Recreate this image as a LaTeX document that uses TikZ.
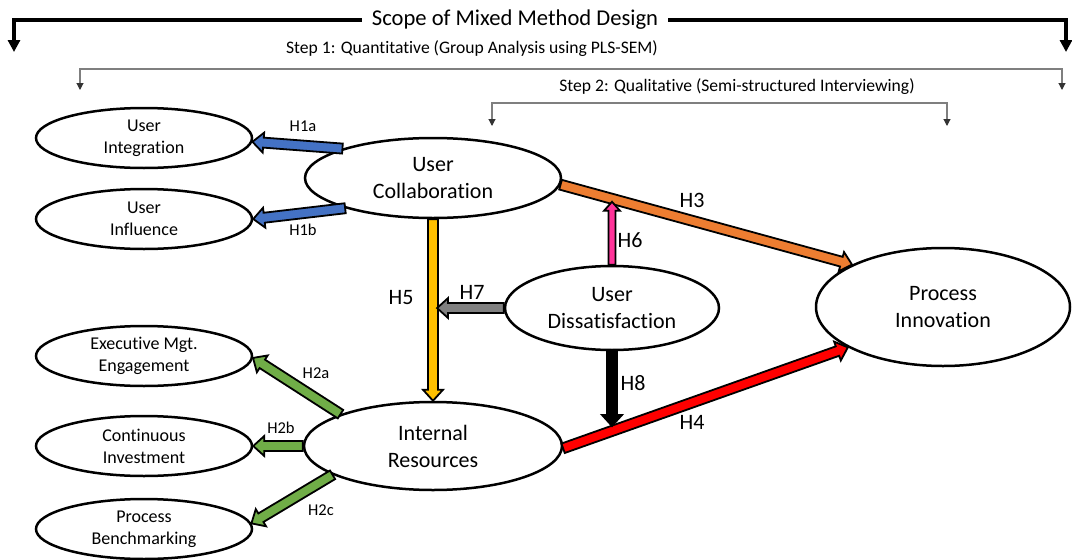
\documentclass[tikz,border=0pt]{standalone}
\usepackage{fontspec}
\setmainfont{Carlito}[Ligatures=NoCommon]
\usetikzlibrary{calc,arrows.meta,shapes.geometric}

% block arrow: #1 fill, #2 start, #3 tip, #4 shaft half width, #5 head half width, #6 head length
\newcommand\blockarrow[6]{%
  \coordinate (ba-s) at (#2);
  \coordinate (ba-t) at (#3);
  \coordinate (ba-b) at ($(ba-t)!#6!(ba-s)$);
  \filldraw[blockline, fill=#1]
    ($(ba-s)!#4!90:(ba-t)$) -- ($(ba-b)!#4!90:(ba-t)$) -- ($(ba-b)!#5!90:(ba-t)$)
    -- (ba-t)
    -- ($(ba-b)!#5!-90:(ba-t)$) -- ($(ba-b)!#4!-90:(ba-t)$) -- ($(ba-s)!#4!-90:(ba-t)$) -- cycle;
}

\definecolor{cblue}{HTML}{4472C4}
\definecolor{corange}{HTML}{ED7D31}
\definecolor{cred}{HTML}{FF0000}
\definecolor{cyellow}{HTML}{FFC000}
\definecolor{cpink}{HTML}{FF3399}
\definecolor{cgray}{HTML}{808080}
\definecolor{cgreen}{HTML}{70AD47}
\definecolor{bracketgray}{HTML}{7F7F7F}

\begin{document}
\begin{tikzpicture}[x=1pt,y=-1pt,
  oval/.style={ellipse, draw, line width=2.5pt, fill=white, inner sep=0pt, align=center},
  small/.style={oval, minimum width=216pt, minimum height=60pt, font=\fontsize{18}{22}\selectfont},
  big/.style={oval, font=\fontsize{22}{27}\selectfont},
  hlab/.style={font=\fontsize{22}{22}\selectfont},
  hsm/.style={font=\fontsize{16.5}{17}\selectfont},
  blockline/.style={draw=black, line width=1.8pt, line join=miter, miter limit=4},
  scopeline/.style={line width=4pt, -{Triangle[width=12pt,length=12pt]}},
  stepline/.style={line width=1.1pt, draw=bracketgray, {Triangle[width=7pt,length=7pt,color=black!80]}-{Triangle[width=7pt,length=7pt,color=black!80]}},
  steptext/.style={font=\fontsize{17.6}{18}\selectfont},
]
\useasboundingbox (0,0) rectangle (1072,560);

% scope bracket
\node[font=\fontsize{22.6}{23}\selectfont, inner xsep=10pt] (scope) at (515,20) {Scope of Mixed Method Design};
\coordinate (scL) at (14,52);
\coordinate (scR) at (1066,52);
\draw[scopeline] (scope.west) -| (scL);
\draw[scopeline] (scope.east) -| (scR);

% step 1 bracket
\node[steptext] (step1) at (472,49) {Step 1: Quantitative (Group Analysis using PLS-SEM)};
\coordinate (s1L) at (80,90);
\coordinate (s1R) at (1062,90);
\draw[stepline] (s1L) -- ++(0,-21) -| (s1R);

% step 2 bracket
\node[steptext] (step2) at (737,87) {Step 2: Qualitative (Semi-structured Interviewing)};
\coordinate (s2L) at (492,126);
\coordinate (s2R) at (947,126);
\draw[stepline] (s2L) -- ++(0,-23) -| (s2R);

% constructs
\node[small] (ui) at (144,138) {User\\Integration};
\node[small] (uf) at (144,219) {User\\Influence};
\node[small] (em) at (144,356) {Executive Mgt.\\Engagement};
\node[small] (ci) at (144,446) {Continuous\\Investment};
\node[small] (pb) at (144,529) {Process\\Benchmarking};
\node[big, minimum width=256pt, minimum height=80pt] (uc) at (433,178) {User\\Collaboration};
\node[big, minimum width=258pt, minimum height=88pt] (ir) at (433,446) {Internal\\Resources};
\node[big, minimum width=214pt, minimum height=84pt] (ud) at (612,308) {User\\Dissatisfaction};
\node[big, minimum width=254pt, minimum height=118pt] (pi) at (943,307) {Process\\Innovation};

% main paths
\coordinate (h3s) at (uc.-3);
\coordinate (h3t) at (pi.155);
\coordinate (h4s) at (ir.-1);
\coordinate (h4t) at (pi.203);
\coordinate (h5s) at (uc.south);
\coordinate (h5t) at (ir.north);

\blockarrow{cblue}{uc.162}{ui.-2}{5pt}{10pt}{11pt}
\blockarrow{cblue}{uc.199}{uf.east}{5pt}{10pt}{11pt}
\blockarrow{cgreen}{ir.161}{em.-1}{5pt}{10pt}{11pt}
\blockarrow{cgreen}{ir.west}{ci.east}{5pt}{10pt}{11pt}
\blockarrow{cgreen}{ir.196}{pb.3}{5pt}{10pt}{11pt}
\blockarrow{corange}{h3s}{h3t}{5pt}{10pt}{11pt}
\blockarrow{cred}{h4s}{h4t}{5pt}{10pt}{11pt}
\blockarrow{cyellow}{h5s}{h5t}{5pt}{10pt}{11pt}

% moderating paths onto the main paths
\coordinate (h6x) at (intersection of ud.north--ud.south and h3s--h3t);
\coordinate (h7x) at (intersection of ud.west--ud.east and h5s--h5t);
\coordinate (h8x) at (intersection of ud.north--ud.south and h4s--h4t);
\blockarrow{cpink}{ud.north}{$(h6x)+(0,3)$}{3.5pt}{8pt}{9pt}
\blockarrow{cgray}{ud.west}{$(h7x)+(4,0)$}{5pt}{10pt}{11pt}
\blockarrow{black}{ud.south}{$(h8x)+(0,-5)$}{5pt}{10pt}{11pt}

% path labels
\node[hsm] (l1a) at (303,126) {H1a};
\node[hsm] (l1b) at (303,230) {H1b};
\node[hsm] (l2a) at (316,373) {H2a};
\node[hsm] (l2b) at (281,428) {H2b};
\node[hsm] (l2c) at (321,510) {H2c};
\node[hlab] (l3) at (692,200) {H3};
\node[hlab] (l4) at (692,422) {H4};
\node[hlab] (l5) at (401,298) {H5};
\node[hlab] (l6) at (630,240) {H6};
\node[hlab] (l7) at (472,292) {H7};
\node[hlab] (l8) at (633,383) {H8};
\end{tikzpicture}
\end{document}
